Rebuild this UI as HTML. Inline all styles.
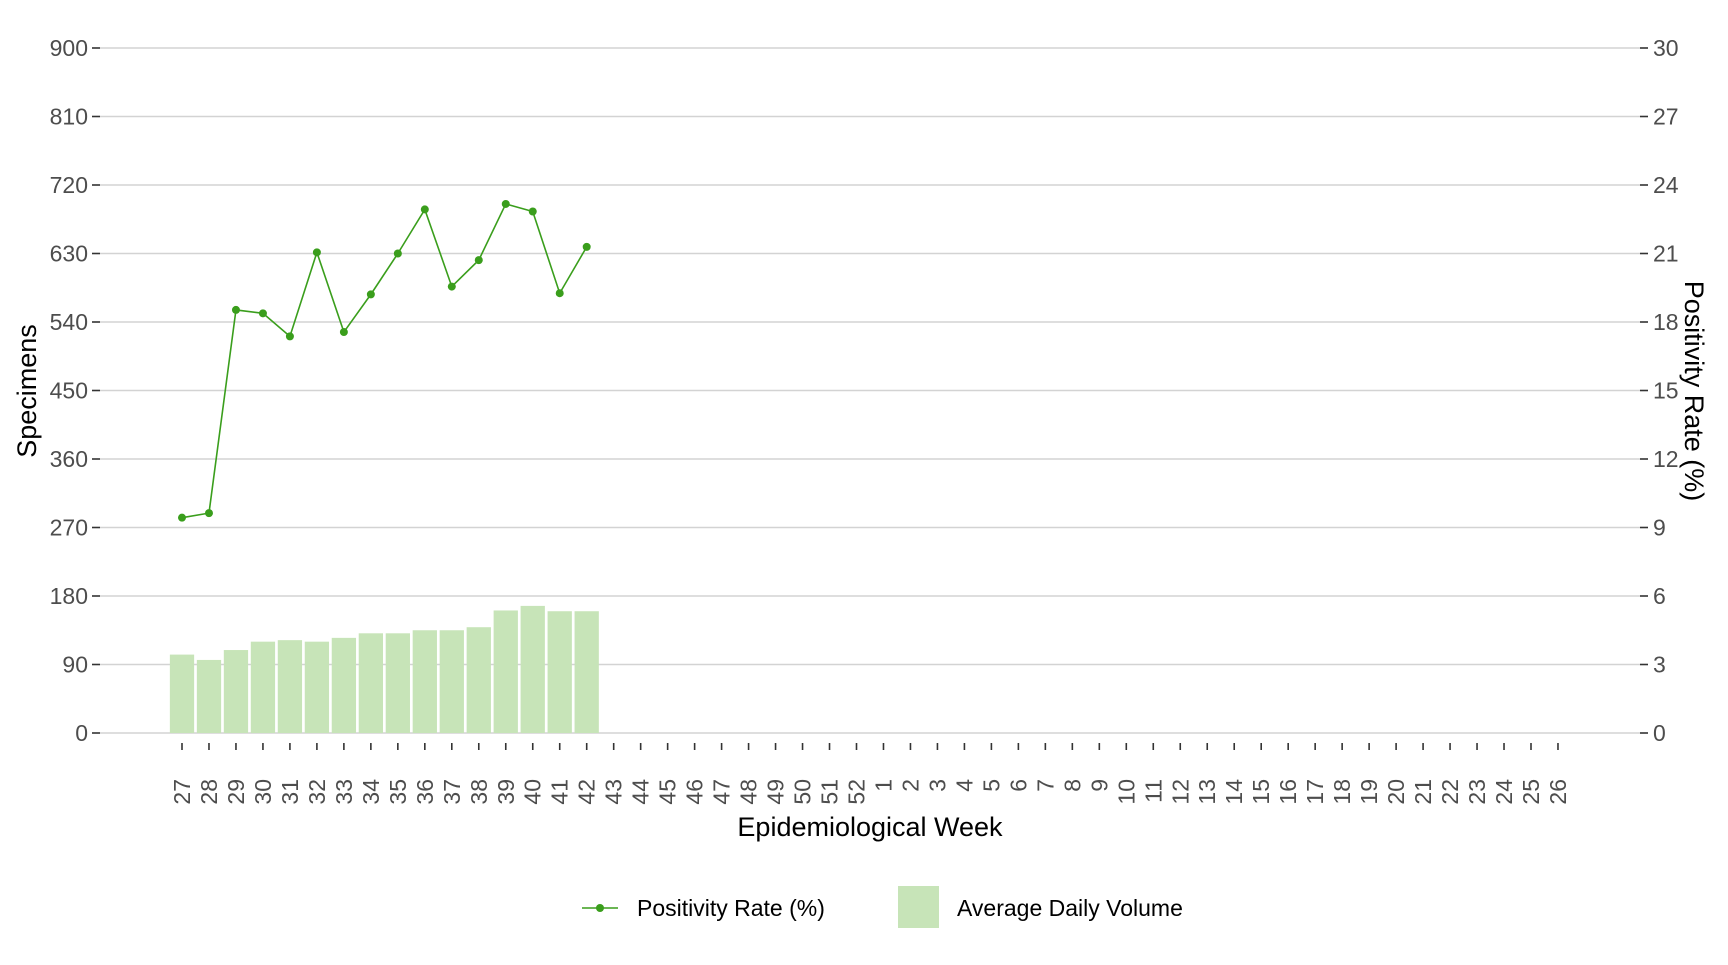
<!DOCTYPE html>
<html><head><meta charset="utf-8"><style>
body{margin:0;background:#fff}
svg text{font-family:"Liberation Sans",Arial,sans-serif}
</style></head><body>
<svg id="c" width="1728" height="960" xmlns="http://www.w3.org/2000/svg"></svg>
<script>
const weeks=[27,28,29,30,31,32,33,34,35,36,37,38,39,40,41,42,43,44,45,46,47,48,49,50,51,52,1,2,3,4,5,6,7,8,9,10,11,12,13,14,15,16,17,18,19,20,21,22,23,24,25,26];
const volume=[103,96,109,120,122,120,125,131,131,135,135,139,161,167,160,160];
const positivity=[9.43,9.63,18.53,18.38,17.37,21.05,17.56,19.21,21.0,22.93,19.55,20.71,23.17,22.84,19.26,21.29];
const leftTicks=[0,90,180,270,360,450,540,630,720,810,900];
const rightTicks=[0,3,6,9,12,15,18,21,24,27,30];
const svg=document.getElementById('c');const NS='http://www.w3.org/2000/svg';
function mk(t,a,txt){const e=document.createElementNS(NS,t);for(const k in a)e.setAttribute(k,a[k]);if(txt!=null)e.textContent=txt;svg.appendChild(e);return e;}
const X0=100,X1=1640,Y0=733,Y1=48;
const yL=v=>Y0-(v/900)*(Y0-Y1);
const yR=v=>Y0-(v/30)*(Y0-Y1);
const xI=i=>182+i*26.98;
leftTicks.forEach((v,i)=>{
 const g=mk('line',{x1:X0,x2:X1,y1:yL(v),y2:yL(v),stroke:'#d3d3d3','stroke-width':1.6});
 
 const t=mk('line',{x1:X0-8,x2:X0,y1:yL(v),y2:yL(v),stroke:'#333','stroke-width':1.6});
 
 const l=mk('text',{x:X0-12,y:yL(v)+8,'text-anchor':'end','font-size':23,fill:'#4d4d4d'},v);
 
});
rightTicks.forEach(v=>{
 const t=mk('line',{x1:X1,x2:X1+8,y1:yR(v),y2:yR(v),stroke:'#333','stroke-width':1.6});
 
 const l=mk('text',{x:X1+13,y:yR(v)+8,'font-size':23,fill:'#4d4d4d'},v);
 
});
weeks.forEach((w,i)=>{
 const x=xI(i);
 const t=mk('line',{x1:x,x2:x,y1:Y0+10,y2:Y0+17,stroke:'#333','stroke-width':1.6});
 
 const l=mk('text',{x:0,y:0,'text-anchor':'end','font-size':23,fill:'#4d4d4d',transform:`translate(${x+8},${Y0+46}) rotate(-90)`},w);
 
});
const bw=26.98*0.9;
volume.forEach((v,i)=>{
 const b=mk('rect',{x:xI(i)-bw/2,y:yL(v),width:bw,height:Y0-yL(v),fill:'#c7e4b8'});
 
});
const pts=positivity.map((v,i)=>xI(i)+','+yR(v)).join(' ');
const pl=mk('polyline',{points:pts,fill:'none',stroke:'#3a9e1c','stroke-width':1.6});

positivity.forEach((v,i)=>{
 const c=mk('circle',{cx:xI(i),cy:yR(v),r:4,fill:'#3a9e1c'});
 
});
let e;
e=mk('text',{x:0,y:0,'text-anchor':'middle','font-size':27,fill:'#000',transform:'translate(36,391) rotate(-90)'},'Specimens');

e=mk('text',{x:0,y:0,'text-anchor':'middle','font-size':27,fill:'#000',transform:'translate(1685,391) rotate(90)'},'Positivity Rate (%)');

e=mk('text',{x:870,y:836,'text-anchor':'middle','font-size':27,fill:'#000'},'Epidemiological Week');

e=mk('line',{x1:582,x2:618,y1:908,y2:908,stroke:'#3a9e1c','stroke-width':1.6});

e=mk('circle',{cx:600,cy:908,r:4,fill:'#3a9e1c'});

e=mk('text',{x:637,y:916,'font-size':23,fill:'#000'},'Positivity Rate (%)');

e=mk('rect',{x:898,y:886,width:41,height:42,fill:'#c7e4b8'});

e=mk('text',{x:957,y:916,'font-size':23,fill:'#000'},'Average Daily Volume');

</script>
</body></html>
